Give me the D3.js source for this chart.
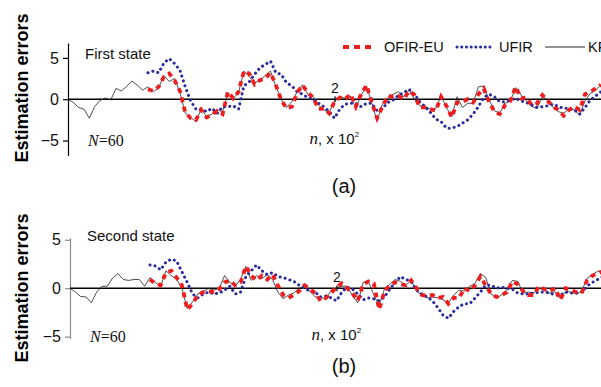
<!DOCTYPE html>
<html>
<head>
<meta charset="utf-8">
<script src="https://cdn.jsdelivr.net/npm/d3@7"></script>
<style>
  body { margin: 0; background: #fff; }
  svg { display: block; font-family: 'Liberation Sans', Arial, sans-serif; }
</style>
</head>
<body>
<div id="chart"></div>
<script>
const WIDTH = 601;
const HEIGHT = 387;

// sample index n (every 4 samples), KF runs from 0, FIR filters start at N=60
const STEP = 4;
const KF_START = 0;
const FIR_START = 60;

// ---- panel (a): first state ----
const kfFirst = [
  0, -0.4, -1.0, -1.2, -2.3, -0.9, -0.15, 0.15, -0.1, 1.3, 1.0, 1.55, 2.2, 1.7, 1.1,
  1.5, 0.9, 1.4, 2.85, 2.15, 2.5, 0.8, -1.7, -2.2, -2.7, -1.2, -2.1, -1.8, -1.3, -1.5,
  0.7, 0.1, 0.8, 3.4, 2.75, 2.0, 2.2, 2.9, 3.4, 1.55, 0.0, -1.0, -0.3, 0.9, 1.75,
  0.6, 0.3, -0.7, -1.3, -1.6, -0.2,
  0.3, 0.1, 0.4, -1.1, 0.5, 1.6, -0.5, -2.6, -0.6, 0.2, 0.6, 0.9, 0.3, 1.1, 0.0,
  -0.8, -0.9, -1.2, -1.1, 0.4, -1.0, -2.1, 0.3, -1.0, -0.5, -0.5, 1.5, 1.6, -0.1,
  -1.4, -1.7, -0.5, -0.2, 1.4, 0.5, -0.2, -0.9, -1.1, 0.3, -0.1, -1.0, -1.5, -1.7,
  -1.2, -1.3, -1.9, -0.2, 0.7, 1.1, 1.75
];
const ofirFirst = [
  1.2, 1.0, 1.5, 2.7, 3.1, 2.3, 1.0, -1.6, -2.3, -2.5, -1.3, -2.2, -1.9, -1.4, -1.8,
  0.9, 0.1, 0.9, 3.4, 3.1, 1.8, 2.3, 2.5, 3.2, 1.7, -0.1, -1.1, -0.9, 0.8, 1.7,
  0.8, 0.2, -1.2, -1.1, -1.7, -0.3,
  0.2, 0.0, 0.6, -0.9, 0.6, 1.7, -0.4, -2.3, -0.9, 0.4, 0.3, 0.4, 0.0, 1.0, 0.5,
  -1.0, -1.0, -1.2, -1.4, 0.3, -0.8, -2.2, -0.4, -0.3, 0.0, -0.4, 0.6, 1.3, -0.3,
  -1.5, -1.8, -0.7, -0.2, 1.5, 0.1, 0.2, -0.7, -0.5, 0.5, -0.2, -0.9, -1.3, -2.0,
  -1.3, -0.9, -1.3, 0.6, 0.9, 1.3, 1.75
];
const ufirFirst = [
  3.2, 3.4, 3.2, 4.4, 4.9, 4.3, 3.5, 1.5, -0.2, -1.2, -1.2, -1.5, -1.1, -1.7, -0.9,
  -0.9, -0.8, -1.2, 1.6, 2.1, 3.0, 3.8, 4.2, 4.6, 3.2, 3.0, 2.0, 1.6, 0.9, 0.6,
  0.2, 0.0, -0.5, -0.9, -1.5, -2.3,
  -1.2, -0.6, -0.5, -0.5, -0.9, -0.5, -0.5, -1.4, -1.1, -0.4, -0.1, 0.5, 0.8, 1.2,
  0.6, -0.3, -0.9, -1.6, -2.4, -2.7, -3.5, -3.5, -3.3, -2.9, -2.5, -1.8, -0.9, 0.2,
  0.6, 0.3, -0.3, -0.3, -0.1, 0.1, -0.2, -0.4, -0.7, -1.0, -0.9, -0.8, -0.6, -0.9,
  -1.1, -1.1, -1.3, -1.8, -1.0, -0.1, 0.4, 0.9
];

// ---- panel (b): second state ----
const kfSecond = [
  0.0, -0.4, -0.85, -0.9, -1.5, -0.4, 0.2, 0.2, 1.05, 1.5, 0.9, 0.8, 0.9, 0.9, 0.2,
  1.1, 0.6, 0.2, 1.8, 1.3, 0.9, 0.0, -2.1, -1.4, -0.6, -0.35, 0.0, -0.2, 0.0, 1.3,
  0.6, 0.2, 0.9, 2.25, 0.8, 1.3, 1.0, 1.4, 0.9, -0.4, -1.1, -0.7, -0.5, 0.0, 0.2,
  -0.3, -0.9, -0.9, -1.2, -0.2, 0.0,
  0.2, 0.2, -0.8, -1.5, 0.6, 0.7, -0.7, -1.8, -0.1, 0.4, 0.9, 0.7, 0.3, 0.8, -0.3,
  -0.7, -1.0, -0.9, -1.0, -1.2, -1.5, -0.7, -0.2, -0.3, 0.2, 0.5, 1.5, 1.1, -0.6,
  -1.0, -0.7, -0.1, 0.8, 0.7, -0.5, -0.4, -0.5, 0.0, -0.1, -0.5, -0.35, -1.05, -0.35,
  -0.4, -0.6, -0.3, 1.0, 1.4, 1.75, 1.8
];
const ofirSecond = [
  0.9, 0.5, 0.3, 1.6, 1.8, 1.1, 0.3, -2.2, -1.6, -0.7, -0.4, -0.3, -0.4, -0.1, 0.6,
  0.8, 0.3, 0.6, 2.25, 1.3, 0.8, 1.3, 0.9, 1.4, 0.3, -0.7, -1.0, -0.7, -0.3, 0.3,
  -0.1, -0.5, -1.3, -1.0, -0.5, 0.1,
  0.5, 0.0, -0.5, -1.3, 0.4, 0.7, 0.5, -2.2, -0.3, 0.3, 0.6, 0.4, 0.3, 0.8, 0.0,
  -0.7, -0.8, -0.7, -1.0, -0.9, -1.6, -1.0, -1.0, 0.0, -0.3, 0.3, 1.2, 0.3, -0.6,
  -0.9, -0.7, -0.4, 0.7, 0.4, -0.3, -0.7, -0.7, 0.2, -0.1, -0.3, 0.0, -1.2, 0.0,
  -0.2, -0.4, -0.5, 0.8, 1.3, 1.5, 1.75
];
const ufirSecond = [
  2.4, 2.3, 1.9, 2.7, 3.0, 2.8, 1.7, 0.6, -0.6, -1.0, -0.6, -0.4, -0.6, -0.5, -0.2,
  0.2, -0.6, -0.4, 1.2, 1.8, 2.4, 1.8, 1.4, 1.6, 1.2, 1.1, 0.9, 0.7, 0.3, 0.0,
  -0.3, -0.4, -0.9, -0.8, -1.0, -1.3,
  -0.4, 0.1, -0.1, -0.6, -1.2, -1.0, -1.1, -1.3, -0.9, -0.1, 0.6, 1.2, 0.9, 0.7,
  -0.2, -0.6, -0.9, -1.3, -2.0, -2.8, -3.1, -2.4, -1.9, -1.6, -1.6, -1.0, -0.4, 0.3,
  0.3, 0.0, 0.1, 0.0, -0.1, -0.5, -0.6, -0.6, -0.5, -0.4, -0.4, -0.5, -0.7, -0.7,
  -0.4, -0.5, -0.5, -0.4, 0.2, 0.6, 0.9, 1.2
];

const yTicks = [-5, 0, 5];
const xTicks = [200];
const legendLabels = ['OFIR-EU', 'UFIR', 'KF'];
const panelLabels = ['(a)', '(b)'];
const stateLabels = ['First state', 'Second state'];

const RED = '#ee1c1c';
const BLUE = '#2b2b9e';

const svg = d3.select('#chart')
  .append('svg')
  .attr('width', WIDTH)
  .attr('height', HEIGHT);

const panels = [
  { kf: kfFirst, ofir: ofirFirst, ufir: ufirFirst, x0: 68, yTop: 43, yBot: 155.4, dom: [-6.8, 6.8],
    axisColor: '#000', state: stateLabels[0], tag: panelLabels[0], tagY: 193, titleY: 88 },
  { kf: kfSecond, ofir: ofirSecond, ufir: ufirSecond, x0: 70, yTop: 237.8, yBot: 338.6, dom: [-5.2, 5.2],
    axisColor: '#8a8a8a', state: stateLabels[1], tag: panelLabels[1], tagY: 373, titleY: 288 },
];

function toPoints(values, start) {
  return values.map((v, i) => ({ n: start + i * STEP, v }));
}

panels.forEach((p) => {
  const x = d3.scaleLinear().domain([0, 400]).range([p.x0, p.x0 + 533]);
  const y = d3.scaleLinear().domain(p.dom).range([p.yBot, p.yTop]);
  const g = svg.append('g');

  // y axis title
  g.append('text')
    .attr('transform', `translate(28, ${p.titleY}) rotate(-90)`)
    .attr('text-anchor', 'middle')
    .attr('font-size', 18)
    .attr('font-weight', 'bold')
    .text('Estimation errors');

  // y axis
  const yAxis = g.append('g')
    .attr('transform', `translate(${p.x0}, 0)`)
    .call(d3.axisLeft(y).tickValues(yTicks).tickSize(5).tickSizeOuter(0).tickPadding(4)
      .tickFormat(d => d < 0 ? '\u2212' + Math.abs(d) : d));
  yAxis.select('.domain').attr('stroke', p.axisColor).attr('stroke-width', 1.2);
  yAxis.selectAll('.tick line').attr('stroke', p.axisColor).attr('stroke-width', 1.2);
  yAxis.selectAll('.tick text').attr('font-size', 16).attr('font-family', "'Liberation Sans', Arial, sans-serif").attr('fill', '#111');

  // zero line
  g.append('line')
    .attr('x1', p.x0).attr('x2', WIDTH)
    .attr('y1', y(0)).attr('y2', y(0))
    .attr('stroke', '#000').attr('stroke-width', 1.5);

  // x tick at n = 200
  const xAxis = g.append('g')
    .attr('transform', `translate(0, ${y(0) + 3})`)
    .call(d3.axisTop(x).tickValues(xTicks).tickSize(6).tickPadding(3).tickFormat(d => d / 100));
  xAxis.select('.domain').remove();
  xAxis.selectAll('.tick line').attr('stroke', '#000').attr('stroke-width', 1.2);
  xAxis.selectAll('.tick text').attr('font-size', 14).attr('font-family', "'Liberation Sans', Arial, sans-serif").attr('fill', '#111');

  const line = d3.line().x(d => x(d.n)).y(d => y(d.v));

  // KF
  g.append('path')
    .datum(toPoints(p.kf, KF_START))
    .attr('fill', 'none')
    .attr('stroke', '#222')
    .attr('stroke-width', 0.8)
    .attr('d', line);

  // UFIR
  g.append('path')
    .datum(toPoints(p.ufir, FIR_START))
    .attr('fill', 'none')
    .attr('stroke', BLUE)
    .attr('stroke-width', 3)
    .attr('stroke-linecap', 'round')
    .attr('stroke-dasharray', '0.1,5')
    .attr('d', line);

  // OFIR-EU
  g.append('path')
    .datum(toPoints(p.ofir, FIR_START))
    .attr('fill', 'none')
    .attr('stroke', RED)
    .attr('stroke-width', 3.8)
    .attr('stroke-dasharray', '5,4.5')
    .attr('d', line);

  // texts
  g.append('text')
    .attr('x', p.x0 + 17).attr('y', y(5) + 1)
    .attr('font-size', 15).attr('fill', '#111')
    .text(p.state);

  const nt = g.append('text')
    .attr('x', p.x0 + 20).attr('y', y(-5) + 5)
    .attr('font-family', "'Liberation Serif', 'Times New Roman', serif")
    .attr('font-size', 16).attr('fill', '#111');
  nt.append('tspan').attr('font-style', 'italic').text('N');
  nt.append('tspan').text('=60');

  const xt = g.append('text')
    .attr('x', x(200) - 25).attr('y', y(-5) + 3)
    .attr('font-size', 15).attr('fill', '#111');
  xt.append('tspan').attr('font-family', "'Liberation Serif', 'Times New Roman', serif")
    .attr('font-style', 'italic').attr('font-size', 17).text('n');
  xt.append('tspan').text(', x 10');
  xt.append('tspan').attr('font-size', 8).attr('dy', -7).text('2');

  g.append('text')
    .attr('x', 344).attr('y', p.tagY)
    .attr('text-anchor', 'middle')
    .attr('font-size', 20).attr('fill', '#111')
    .text(p.tag);
});

// legend (panel a only)
const legendY = 47;
const legend = svg.append('g');
const legendItems = [
  { label: legendLabels[0], x1: 343, x2: 373, tx: 384, stroke: RED, w: 3.8, dash: '6,5', cap: 'butt' },
  { label: legendLabels[1], x1: 457, x2: 490, tx: 499, stroke: BLUE, w: 3, dash: '0.1,4.6', cap: 'round' },
  { label: legendLabels[2], x1: 545, x2: 585, tx: 588, stroke: '#111', w: 0.9, dash: null, cap: 'butt' },
];
legendItems.forEach(it => {
  legend.append('line')
    .attr('x1', it.x1).attr('x2', it.x2)
    .attr('y1', legendY).attr('y2', legendY)
    .attr('stroke', it.stroke).attr('stroke-width', it.w)
    .attr('stroke-linecap', it.cap)
    .attr('stroke-dasharray', it.dash);
  legend.append('text')
    .attr('x', it.tx).attr('y', legendY + 5)
    .attr('font-size', 14.5).attr('fill', '#111')
    .text(it.label);
});
</script>
</body>
</html>
